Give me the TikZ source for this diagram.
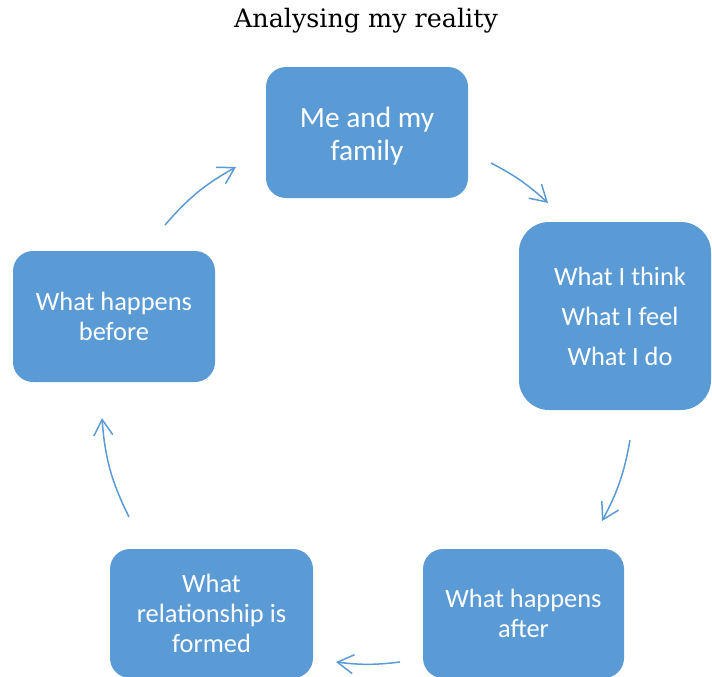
\documentclass[tikz,border=0pt]{standalone}
\usepackage{fontspec}
\setmainfont{Carlito}
\newfontfamily\titlefont{DejaVu Serif}
\usetikzlibrary{arrows.meta}
\definecolor{boxblue}{HTML}{5B9BD5}

\begin{document}
\begin{tikzpicture}[x=0.5pt,y=-0.5pt,
  stepbox/.style={fill=boxblue, rounded corners=10pt, text=white, align=center,
    inner sep=0pt, font=\fontsize{13.2}{15}\selectfont},
  cyclearrow/.style={draw=boxblue, line width=0.75pt,
    -{Straight Barb[length=8pt,width=9.5pt]}}]
  \useasboundingbox (0,0) rectangle (712,676);
  \clip (0,0) rectangle (712,676);

  % title
  \node[anchor=base, font=\titlefont\fontsize{12.7}{14}\selectfont] (title) at (366,27) {Analysing my reality};

  % the five steps of the cycle
  \node[stepbox, minimum width=101pt, minimum height=65.5pt,
        font=\fontsize{14.7}{16.5}\selectfont] (family) at (367,132.5)
        {\rule{0pt}{14pt}Me and my\\family};
  \node[stepbox, minimum width=96pt, minimum height=94pt, rounded corners=15pt,
        font=\fontsize{13.2}{20}\selectfont] (inner) at (615,316)
        {\hspace*{5pt}What I think\\\hspace*{5pt}What I feel\\\hspace*{5pt}What I do};
  \node[stepbox, minimum width=100.5pt, minimum height=64.5pt] (after) at (523.5,613.5) {What happens\\after};
  \node[stepbox, minimum width=101.5pt, minimum height=64.5pt] (relation) at (211.5,613.5) {What\\relationship is\\formed};
  \node[stepbox, minimum width=101pt, minimum height=65.5pt] (before) at (114,316.5) {What happens\\before};

  % arrow ends on the circle around the cycle
  \coordinate (a1s) at (165,225); \coordinate (a1e) at (236,167);
  \coordinate (a2s) at (491,163); \coordinate (a2e) at (548,203);
  \coordinate (a3s) at (630,440); \coordinate (a3e) at (602,521);
  \coordinate (a4s) at (400,662); \coordinate (a4e) at (336,662);
  \coordinate (a5s) at (129,517); \coordinate (a5e) at (102,418);

  \draw[cyclearrow] (a1s) to[bend left=10] (a1e);
  \draw[cyclearrow] (a2s) to[bend left=7.5] (a2e);
  \draw[cyclearrow] (a3s) to[bend left=9] (a3e);
  \draw[cyclearrow] (a4s) to[bend left=7] (a4e);
  \draw[cyclearrow] (a5s) to[bend left=11] (a5e);
\end{tikzpicture}
\end{document}
